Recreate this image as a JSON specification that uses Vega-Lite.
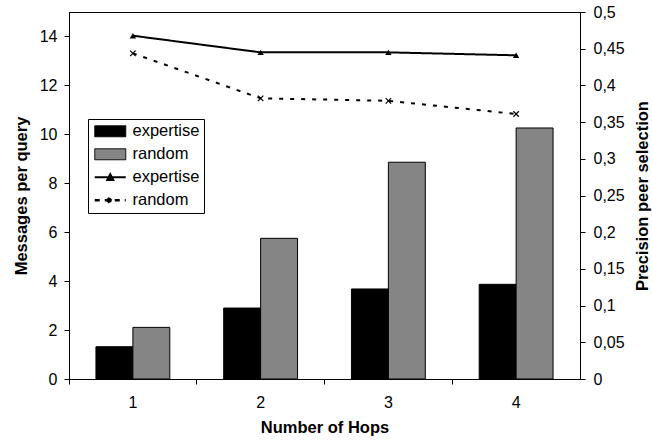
{
  "$schema": "https://vega.github.io/schema/vega-lite/v6.json",
  "autosize": "none",
  "width": 511,
  "height": 367,
  "padding": {"left": 69, "top": 12, "right": 72, "bottom": 62},
  "background": "white",
  "config": {
    "font": "Liberation Sans",
    "view": {"stroke": "black", "strokeWidth": 1},
    "axis": {
      "labelFont": "Liberation Sans",
      "titleFont": "Liberation Sans",
      "labelColor": "black",
      "titleColor": "black",
      "domainColor": "black",
      "tickColor": "black",
      "labelFontSize": 16,
      "titleFontSize": 16.5,
      "titleFontWeight": "bold",
      "grid": false
    }
  },
  "data": {
    "values": [
      {"hops": "1", "series": "expertise", "messages": 1.32, "precision": 0.4677},
      {"hops": "1", "series": "random", "messages": 2.11, "precision": 0.4437},
      {"hops": "2", "series": "expertise", "messages": 2.90, "precision": 0.4450},
      {"hops": "2", "series": "random", "messages": 5.75, "precision": 0.3824},
      {"hops": "3", "series": "expertise", "messages": 3.68, "precision": 0.4450},
      {"hops": "3", "series": "random", "messages": 8.86, "precision": 0.3790},
      {"hops": "4", "series": "expertise", "messages": 3.87, "precision": 0.4410},
      {"hops": "4", "series": "random", "messages": 10.26, "precision": 0.3610}
    ]
  },
  "encoding": {
    "x": {
      "field": "hops",
      "type": "ordinal",
      "scale": {"paddingInner": 0, "paddingOuter": 0},
      "axis": {
        "title": "Number of Hops",
        "labelAngle": 0,
        "bandPosition": 0,
        "tickSize": 5,
        "labelPadding": 10,
        "titlePadding": 9
      }
    }
  },
  "layer": [
    {
      "mark": {"type": "bar", "stroke": "black", "strokeWidth": 1},
      "encoding": {
        "xOffset": {"field": "series", "type": "nominal", "scale": {"paddingOuter": 0.73, "paddingInner": 0}},
        "y": {
          "field": "messages",
          "type": "quantitative",
          "scale": {"domain": [0, 15], "nice": false},
          "axis": {
            "title": "Messages per query",
            "values": [0, 2, 4, 6, 8, 10, 12, 14],
            "tickSize": 5,
            "labelPadding": 7,
            "titlePadding": 10
          }
        },
        "fill": {
          "field": "series",
          "type": "nominal",
          "scale": {
            "domain": ["expertise", "random", "expertise-line", "random-line"],
            "range": ["black", "#858585", "black", "white"]
          },
          "legend": {
            "title": null,
            "orient": "none",
            "legendX": 19,
            "legendY": 107,
            "strokeColor": "black",
            "padding": 4,
            "fillColor": "white",
            "rowPadding": 6,
            "symbolSize": 121,
            "labelOffset": 24,
            "labelFont": "Liberation Sans",
            "labelFontSize": 16.5,
            "labelColor": "black",
            "labelExpr": "replace(datum.label, '-line', '')",
            "symbolType": {"expr": "datum.value == 'expertise' || datum.value == 'random' ? 'M-1,-1H4.64V1H-1Z' : datum.value == 'expertise-line' ? 'M-1,0H4.64M1.27,0.5L1.82,-0.55L2.37,0.5Z' : 'M-1,0H4.64M1.4,-0.45L2.2,0.45M1.4,0.45L2.2,-0.45'"},
            "symbolStrokeColor": "black",
            "symbolStrokeWidth": {"expr": "datum.value == 'expertise' || datum.value == 'random' ? 1 : datum.value == 'random-line' ? 2.6 : 2"},
            "symbolDash": {"expr": "datum.value == 'random-line' ? [5, 5] : [1, 0]"},
            "symbolOpacity": 1
          }
        }
      }
    },
    {
      "mark": {"type": "line", "color": "black", "strokeWidth": 2},
      "encoding": {
        "y": {
          "field": "precision",
          "type": "quantitative",
          "scale": {"domain": [0, 0.5], "nice": false},
          "axis": {
            "orient": "right",
            "title": "Precision peer selection",
            "values": [0, 0.05, 0.1, 0.15, 0.2, 0.25, 0.3, 0.35, 0.4, 0.45, 0.5],
            "labelExpr": "replace(format(datum.value, '~g'), '.', ',')",
            "tickSize": 5,
            "labelPadding": 8,
            "titlePadding": 26,
            "titleAngle": 270
          }
        },
        "strokeDash": {
          "field": "series",
          "type": "nominal",
          "scale": {"domain": ["expertise", "random"], "range": [[1, 0], [4, 7]]},
          "legend": null
        },
        "strokeWidth": {
          "field": "series",
          "type": "nominal",
          "scale": {"domain": ["expertise", "random"], "range": [2, 2.4]},
          "legend": null
        }
      }
    },
    {
      "transform": [{"filter": "datum.series == 'expertise'"}],
      "mark": {"type": "point", "shape": "triangle-up", "filled": true, "color": "black", "size": 40, "opacity": 1},
      "encoding": {
        "y": {"field": "precision", "type": "quantitative", "scale": {"domain": [0, 0.5], "nice": false}, "axis": null}
      }
    },
    {
      "transform": [{"filter": "datum.series == 'random'"}],
      "mark": {"type": "point", "shape": "M-1,-1L1,1M-1,1L1,-1", "filled": false, "stroke": "black", "strokeWidth": 1.2, "size": 30, "opacity": 1},
      "encoding": {
        "y": {"field": "precision", "type": "quantitative", "scale": {"domain": [0, 0.5], "nice": false}, "axis": null}
      }
    }
  ],
  "resolve": {"scale": {"y": "independent"}}
}
